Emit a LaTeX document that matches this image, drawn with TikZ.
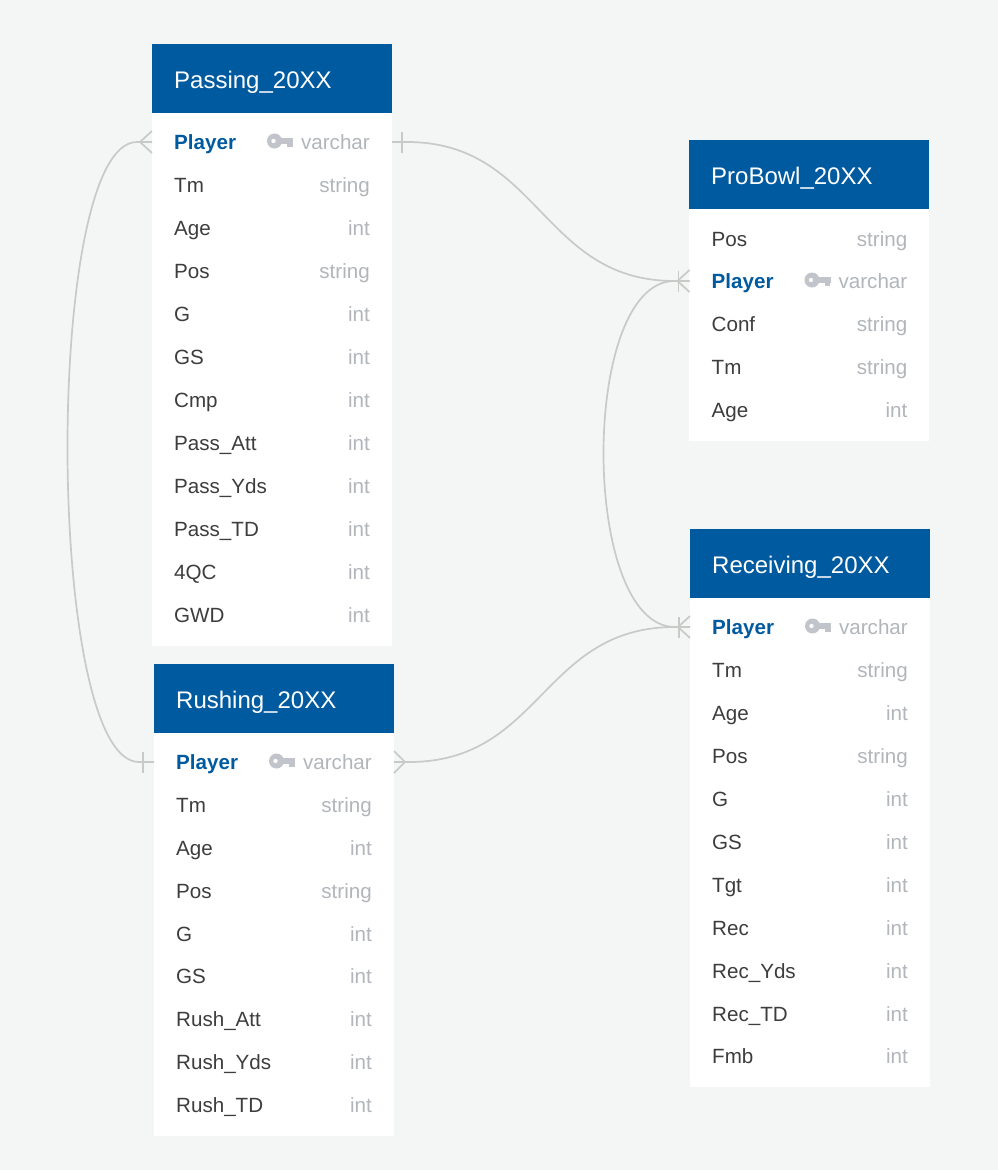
\documentclass[tikz,border=0pt]{standalone}
\usepackage{fontspec}
\setmainfont{Liberation Sans}
\definecolor{pagebg}{HTML}{F4F6F5}
\definecolor{headblue}{HTML}{005AA0}
\definecolor{rowtext}{HTML}{3D3D3D}
\definecolor{typetext}{HTML}{B2B6BA}
\definecolor{keygray}{HTML}{C1C5CB}
\definecolor{linkgray}{HTML}{C8CAC8}
\tikzset{
  cardbox/.style={fill=white,draw=none,minimum width=240pt,inner sep=0pt,outer sep=0pt,anchor=north west},
  headbox/.style={fill=headblue,draw=none,minimum width=240pt,minimum height=69pt,inner sep=0pt,outer sep=0pt,anchor=north west},
  rowbox/.style={draw=none,minimum width=240pt,minimum height=43pt,inner sep=0pt,outer sep=0pt},
  headtext/.style={anchor=base west,inner sep=0pt,text=white,font=\fontsize{24}{28}\selectfont},
  fieldtext/.style={anchor=base west,inner sep=0pt,text=rowtext,font=\fontsize{20.6}{24}\selectfont},
  keytext/.style={anchor=base west,inner sep=0pt,text=headblue,font=\bfseries\fontsize{20.6}{24}\selectfont},
  typelabel/.style={anchor=base east,inner sep=0pt,text=typetext,font=\fontsize{20.6}{24}\selectfont},
  link/.style={draw=linkgray,line width=1.7pt},
  keyicon/.style={fill=keygray,draw=none}
}
% card: name, x, top, bottom, title
\newcommand\ecard[5]{%
  \node[cardbox,minimum height={(#4)-(#3)}] (#1-card) at (#2,#3) {};
  \node[headbox] (#1-head) at (#2,#3) {};
  \node[headtext] (#1-title) at ({#2+22},{#3+44}) {#5};
}
% row: name, x, y, label, type
\newcommand\erow[5]{%
  \node[rowbox] (#1) at ({#2+120},#3) {};
  \node[fieldtext] (#1-label) at ({#2+22},{#3+7.5}) {#4};
  \node[typelabel] (#1-type) at ({#2+218},{#3+7.5}) {#5};
}
% key row: name, x, y, label, type
\newcommand\ekeyrow[5]{%
  \node[rowbox] (#1) at ({#2+120},#3) {};
  \node[keytext] (#1-label) at ({#2+22},{#3+7.5}) {#4};
  \node[typelabel] (#1-type) at ({#2+218},{#3+7.5}) {#5};
  \begin{scope}[shift={(#2,#3)}]
    \fill[keyicon,even odd rule] (122.5,-1) circle[radius=7.5] (121.5,-1) circle[radius=2.3];
    \fill[keyicon] (127,-3.8) rectangle (141,1.8);
    \fill[keyicon] (135,0) rectangle (140.5,5);
  \end{scope}
}
% many end: fan opening towards the card
\newcommand\fanwest[1]{%
  \draw[link] ([xshift=-12pt]#1.west) -- ([yshift=-11pt]#1.west);
  \draw[link] ([xshift=-12pt]#1.west) -- ([yshift=11pt]#1.west);
}
\newcommand\faneast[1]{%
  \draw[link] ([xshift=11pt]#1.east) -- ([yshift=-11pt]#1.east);
  \draw[link] ([xshift=11pt]#1.east) -- ([yshift=11pt]#1.east);
}
% one end: bar across the line
\newcommand\barat[3]{%
  \draw[link] ([xshift=#3pt,yshift=-10.5pt]#1.#2) -- ([xshift=#3pt,yshift=10.5pt]#1.#2);
}
\begin{document}
\begin{tikzpicture}[x=1pt,y=-1pt]
\useasboundingbox (0,0) rectangle (998,1170);
\fill[pagebg] (0,0) rectangle (998,1170);

\ecard{pass}{152}{44}{646}{Passing\_20XX}
\ekeyrow{passPlayer}{152}{142}{Player}{varchar}
\erow{passTm}{152}{185}{Tm}{string}
\erow{passAge}{152}{228}{Age}{int}
\erow{passPos}{152}{271}{Pos}{string}
\erow{passG}{152}{314}{G}{int}
\erow{passGS}{152}{357}{GS}{int}
\erow{passCmp}{152}{400}{Cmp}{int}
\erow{passAtt}{152}{443}{Pass\_Att}{int}
\erow{passYds}{152}{486}{Pass\_Yds}{int}
\erow{passTD}{152}{529}{Pass\_TD}{int}
\erow{passQC}{152}{572}{4QC}{int}
\erow{passGWD}{152}{615}{GWD}{int}

\ecard{rush}{154}{664}{1136}{Rushing\_20XX}
\ekeyrow{rushPlayer}{154}{762}{Player}{varchar}
\erow{rushTm}{154}{805}{Tm}{string}
\erow{rushAge}{154}{848}{Age}{int}
\erow{rushPos}{154}{891}{Pos}{string}
\erow{rushG}{154}{934}{G}{int}
\erow{rushGS}{154}{976}{GS}{int}
\erow{rushAtt}{154}{1019}{Rush\_Att}{int}
\erow{rushYds}{154}{1062}{Rush\_Yds}{int}
\erow{rushTD}{154}{1105}{Rush\_TD}{int}

\ecard{pro}{689}{140}{441}{ProBowl\_20XX}
\erow{proPos}{689.5}{239}{Pos}{string}
\ekeyrow{proPlayer}{689.5}{281}{Player}{varchar}
\erow{proConf}{689.5}{324}{Conf}{string}
\erow{proTm}{689.5}{367}{Tm}{string}
\erow{proAge}{689.5}{410}{Age}{int}

\ecard{rec}{690}{529}{1087}{Receiving\_20XX}
\ekeyrow{recPlayer}{690}{627}{Player}{varchar}
\erow{recTm}{690}{670}{Tm}{string}
\erow{recAge}{690}{713}{Age}{int}
\erow{recPos}{690}{756}{Pos}{string}
\erow{recG}{690}{799}{G}{int}
\erow{recGS}{690}{842}{GS}{int}
\erow{recTgt}{690}{885}{Tgt}{int}
\erow{recRec}{690}{928}{Rec}{int}
\erow{recYds}{690}{971}{Rec\_Yds}{int}
\erow{recTD}{690}{1014}{Rec\_TD}{int}
\erow{recFmb}{690}{1056}{Fmb}{int}

% connectors
\draw[link] (passPlayer.west) -- ++(-15,0) .. controls +(-94,0) and +(-94,0) .. ([xshift=-15pt]rushPlayer.west) -- (rushPlayer.west);
\draw[link] (proPlayer.west) -- ++(-15,0) .. controls +(-95,0) and +(-95,0) .. ([xshift=-15pt]recPlayer.west) -- (recPlayer.west);
\draw[link] (passPlayer.east) -- ++(15,0) .. controls +(133,0) and +(-133,0) .. ([xshift=-15pt]proPlayer.west) -- (proPlayer.west);
\draw[link] (rushPlayer.east) -- ++(15,0) .. controls +(133,0) and +(-133,0) .. ([xshift=-15pt]recPlayer.west) -- (recPlayer.west);

% end marks
\fanwest{passPlayer}
\barat{passPlayer}{east}{10}
\fanwest{proPlayer}
\barat{proPlayer}{west}{-11}
\fanwest{recPlayer}
\barat{recPlayer}{west}{-11}
\barat{rushPlayer}{west}{-11}
\faneast{rushPlayer}
\end{tikzpicture}
\end{document}
